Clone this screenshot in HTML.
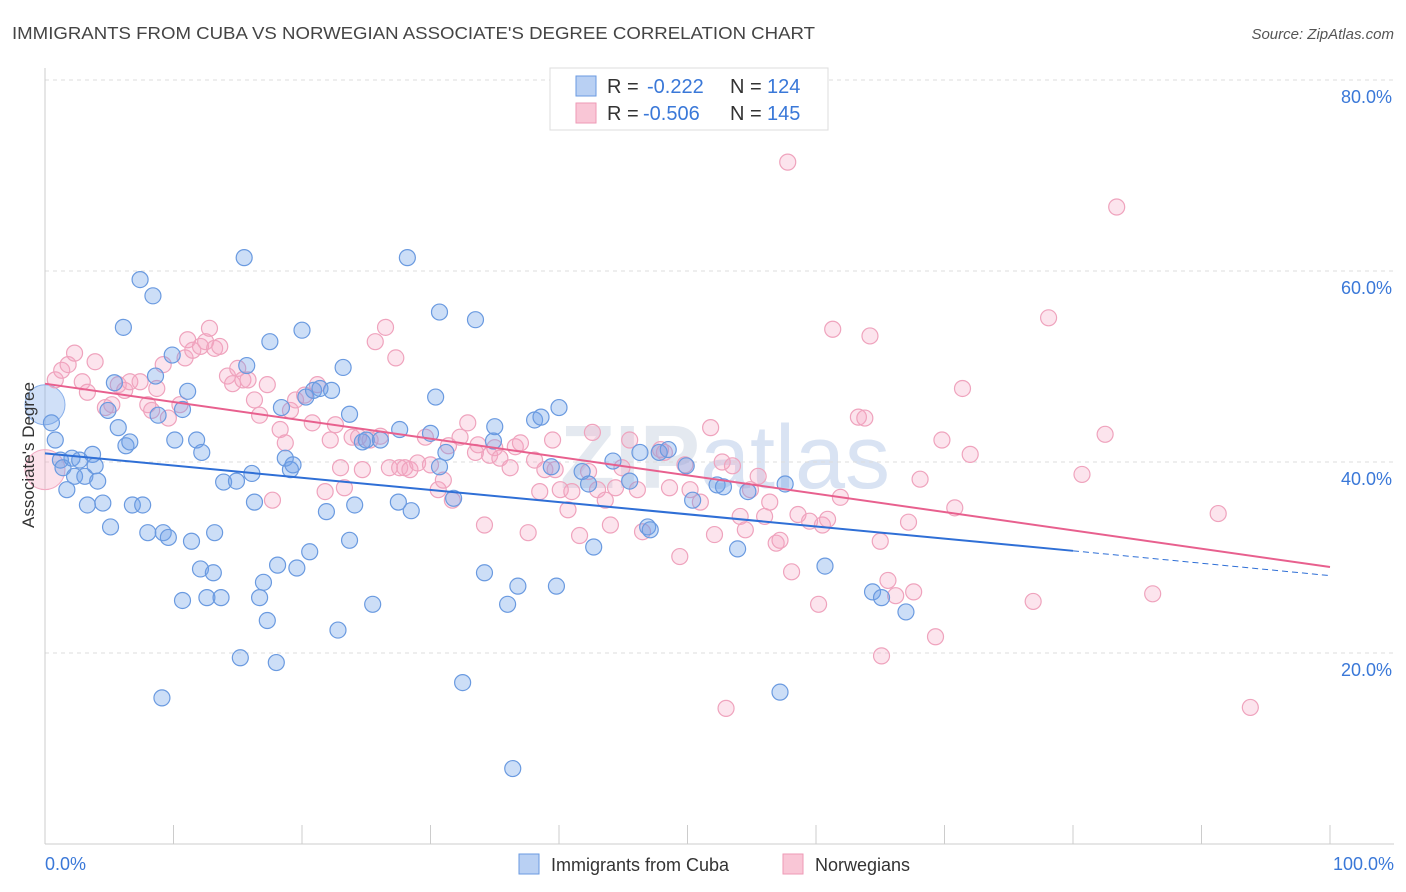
<!DOCTYPE html>
<html><head><meta charset="utf-8"><style>
body{margin:0;background:#fff;font-family:"Liberation Sans",sans-serif;}
svg{display:block}
</style></head><body>
<svg id="chart" width="1406" height="892">
<text x="12" y="39" font-size="17.5" fill="#444" textLength="803" lengthAdjust="spacingAndGlyphs">IMMIGRANTS FROM CUBA VS NORWEGIAN ASSOCIATE'S DEGREE CORRELATION CHART</text>
<text x="1394" y="39" font-size="15" fill="#555" font-style="italic" text-anchor="end">Source: ZipAtlas.com</text>
<text x="725" y="488" font-size="90" font-weight="bold" fill="#e4e9f0" text-anchor="middle">ZIP<tspan font-weight="normal" fill="#d9e3f3">atlas</tspan></text>
<g id="grid"></g>
<g id="axes"></g>
<g id="pts"></g>
<g id="trend"></g>
<text transform="translate(34,455) rotate(-90)" font-size="17" fill="#333" text-anchor="middle">Associate's Degree</text>
<g>
<rect x="550" y="68" width="278" height="62" fill="#fff" stroke="#ddd"/>
<rect x="576" y="76" width="20" height="20" fill="#b9d0f3" stroke="#6a9ae0"/>
<rect x="576" y="103" width="20" height="20" fill="#f9c6d6" stroke="#ee9ab6"/>
<text y="93" font-size="20" fill="#333"><tspan x="607">R =</tspan><tspan x="647" fill="#3a78d8">-0.222</tspan><tspan x="730">N =</tspan><tspan x="767" fill="#3a78d8">124</tspan></text>
<text y="120" font-size="20" fill="#333"><tspan x="607">R =</tspan><tspan x="643" fill="#3a78d8">-0.506</tspan><tspan x="730">N =</tspan><tspan x="767" fill="#3a78d8">145</tspan></text>
</g>
<g>
<rect x="519" y="854" width="20" height="20" fill="#b9d0f3" stroke="#6a9ae0"/>
<text x="551" y="871" font-size="18" fill="#333">Immigrants from Cuba</text>
<rect x="783" y="854" width="20" height="20" fill="#f9c6d6" stroke="#ee9ab6"/>
<text x="815" y="871" font-size="18" fill="#333">Norwegians</text>
</g>
</svg>
<script>
const yTicks=[20,40,60,80];
const yTickLabels=["20.0%","40.0%","60.0%","80.0%"];
const xTickLabels=["0.0%","100.0%"];
const cubaX=[0.8,0.5,1.2,1.4,1.7,2.1,2.3,2.7,3.1,3.3,3.7,3.9,4.1,4.5,5.1,4.9,5.4,5.7,6.1,6.3,6.6,6.8,7.4,7.6,8.0,8.4,8.6,8.8,9.2,9.1,9.6,9.9,10.1,10.7,10.7,11.1,11.4,11.8,12.1,12.2,12.6,13.1,13.2,13.7,13.9,14.9,15.2,15.5,15.7,16.1,16.3,16.7,17.0,17.3,17.5,18.0,18.1,18.4,18.7,19.1,19.3,19.6,20.0,20.3,20.6,20.9,21.4,21.9,22.3,22.8,23.2,23.7,23.7,24.1,24.7,25.0,25.5,26.1,27.5,27.6,28.2,28.5,30.0,30.4,30.7,30.7,31.2,31.8,32.5,33.5,34.2,34.9,35.0,36.0,36.4,36.8,38.1,38.6,39.4,39.8,40.0,41.8,42.3,42.7,44.2,45.5,46.3,46.9,47.1,47.8,48.5,49.9,50.4,52.3,52.8,53.9,54.7,57.2,57.6,60.7,64.4,65.1,67.0];
const cubaY=[42.3,44.1,40.2,39.4,37.1,40.4,38.5,40.2,38.5,35.5,40.8,39.6,38.0,35.7,33.2,45.4,48.3,43.6,54.1,41.7,42.1,35.5,59.1,35.5,32.6,57.4,49.0,44.9,32.6,15.3,32.1,51.2,42.3,45.5,25.5,47.4,31.7,42.3,28.8,41.0,25.8,28.4,32.6,25.8,37.9,38.0,19.5,61.4,50.1,38.8,35.8,25.8,27.4,23.4,52.6,19.0,29.2,45.7,40.4,39.2,39.7,28.9,53.8,46.8,30.6,47.5,47.7,34.8,47.5,22.4,49.9,45.0,31.8,35.5,42.1,42.3,25.1,42.3,35.8,43.4,61.4,34.9,43.0,46.8,55.7,39.5,41.0,36.2,16.9,54.9,28.4,42.2,43.7,25.1,7.9,27.0,44.4,44.7,39.5,27.0,45.7,39.0,37.7,31.1,40.1,38.0,41.0,33.2,32.9,41.0,41.3,39.6,36.0,37.6,37.4,30.9,36.9,15.9,37.7,29.1,26.4,25.8,24.3];
const norX=[0.8,1.3,1.8,2.3,2.9,3.3,3.9,4.7,5.2,5.7,6.2,6.6,7.4,8.0,8.3,8.7,9.2,9.6,10.5,10.9,11.1,11.5,12.1,12.5,12.8,13.2,13.6,14.2,14.6,15.0,15.4,15.8,16.3,16.7,17.3,17.7,18.3,18.7,19.1,19.5,20.2,20.8,21.2,21.8,22.2,22.6,23.0,23.3,23.9,24.4,24.7,25.3,25.7,26.1,26.5,26.8,27.3,27.6,28.0,28.4,29.0,29.6,30.0,30.6,31.0,31.4,31.7,32.3,32.9,33.5,33.7,34.2,34.6,35.0,35.4,36.2,36.6,37.0,37.6,38.1,38.5,38.9,39.5,39.7,40.1,40.7,41.0,41.6,42.3,42.6,43.0,43.6,44.0,44.4,44.9,45.5,46.1,46.5,47.9,48.2,48.6,49.4,49.8,50.2,51.0,51.8,52.1,52.7,53.0,53.5,54.1,54.5,54.9,55.5,56.0,56.4,56.9,57.2,57.8,58.1,58.6,59.5,60.2,60.5,60.9,61.3,61.9,63.3,63.8,64.2,65.0,65.1,65.6,66.2,67.2,67.6,68.1,69.3,69.8,70.8,71.4,72.0,76.9,78.1,80.7,82.5,83.4,86.2,91.3,93.8];
const norY=[48.6,49.6,50.2,51.4,48.4,47.3,50.5,45.7,46.0,48.1,47.5,48.4,48.4,46.0,45.4,47.7,50.2,44.6,46.0,50.9,52.8,51.7,52.1,52.6,54.0,51.9,52.1,49.0,48.2,49.8,48.6,48.6,46.5,44.9,48.1,36.0,43.4,42.0,45.4,46.5,47.0,44.1,48.1,36.9,42.3,43.9,39.4,37.3,42.6,42.6,39.2,42.3,52.6,42.7,54.1,39.4,50.9,39.4,39.4,39.2,39.9,42.6,39.7,37.1,38.1,41.7,36.0,42.6,44.1,41.0,41.8,33.4,40.7,41.5,40.4,39.4,41.6,42.0,32.6,40.2,36.9,39.2,42.3,39.2,37.1,35.0,36.9,32.3,39.0,43.1,37.1,36.0,33.4,37.3,39.4,42.3,37.1,32.7,41.3,41.0,37.3,30.1,39.7,37.1,35.8,43.6,32.4,40.0,14.2,39.6,34.3,32.9,37.1,38.5,34.3,35.8,31.5,31.8,71.4,28.5,34.5,33.8,25.1,33.4,34.0,53.9,36.3,44.7,44.6,53.2,31.7,19.7,27.6,26.0,33.7,26.4,38.2,21.7,42.3,35.2,47.7,40.8,25.4,55.1,38.7,42.9,66.7,26.2,34.6,14.3];
const bigCubaPoint=[0.0,46.0];
const bigNorPoint=[0.0,39.2];
const cubaTrend=[40.9,30.7,28.1];
const cubaTrendSolidEnd=80;
const norTrend=[48.2,29.0];

const NS="http://www.w3.org/2000/svg";
const X0=45,X1=1330,Y0=844,PXY=9.55;
const sx=v=>X0+(X1-X0)*v/100;
const sy=v=>Y0-v*PXY;
function mk(tag,attrs,parent){const e=document.createElementNS(NS,tag);for(const k in attrs)e.setAttribute(k,attrs[k]);parent.appendChild(e);return e;}
const grid=document.getElementById('grid'),axes=document.getElementById('axes'),pts=document.getElementById('pts'),trend=document.getElementById('trend');
yTicks.forEach((t,i)=>{
  const l=mk('line',{x1:45,x2:1394,y1:sy(t),y2:sy(t),stroke:'#ddd','stroke-dasharray':'4,4'},grid);
  
  
  const tx=mk('text',{x:1392,y:sy(t)+23,'font-size':18,fill:'#3a78d8','text-anchor':'end'},axes);
  tx.textContent=yTickLabels[i];
  
  
});
const ax=mk('line',{x1:45,x2:45,y1:68,y2:844,stroke:'#ccc'},axes);


const bx=mk('line',{x1:45,x2:1394,y1:844,y2:844,stroke:'#ccc'},axes);


for(let i=0;i<=10;i++){
  const t=mk('line',{x1:sx(i*10),x2:sx(i*10),y1:825,y2:844,stroke:'#ccc'},axes);
  
  
}
[[0,'start',45],[100,'end',1394]].forEach((d,i)=>{
  const tx=mk('text',{x:d[2],y:870,'font-size':18,fill:'#3a78d8','text-anchor':d[1]},axes);
  tx.textContent=xTickLabels[i];
  
  
});
function dots(xs,ys,fill,stroke,name){
  xs.forEach((x,i)=>{
    const c=mk('circle',{cx:sx(x),cy:sy(ys[i]),r:8,fill:fill,stroke:stroke,'stroke-width':1.2},pts);
    
    
  });
}
const b1=mk('circle',{cx:sx(bigCubaPoint[0]),cy:sy(bigCubaPoint[1]),r:20,fill:'rgba(120,165,235,0.35)',stroke:'#8ab0ea'},pts);


const b2=mk('circle',{cx:sx(bigNorPoint[0]),cy:sy(bigNorPoint[1]),r:20,fill:'rgba(245,160,190,0.3)',stroke:'#f2aac2'},pts);


dots(norX,norY,'rgba(245,165,195,0.3)','#efa3bd','norwegian-point');
dots(cubaX,cubaY,'rgba(110,160,232,0.35)','#6a9ae0','cuba-point');
const tl1=mk('line',{x1:sx(0),y1:sy(cubaTrend[0]),x2:sx(cubaTrendSolidEnd),y2:sy(cubaTrend[1]),stroke:'#2f6fd6','stroke-width':2},trend);


const tl2=mk('line',{x1:sx(cubaTrendSolidEnd),y1:sy(cubaTrend[1]),x2:sx(100),y2:sy(cubaTrend[2]),stroke:'#2f6fd6','stroke-width':1,'stroke-dasharray':'6,4'},trend);


const tl3=mk('line',{x1:sx(0),y1:sy(norTrend[0]),x2:sx(100),y2:sy(norTrend[1]),stroke:'#e8608e','stroke-width':2},trend);


</script>
</body></html>
